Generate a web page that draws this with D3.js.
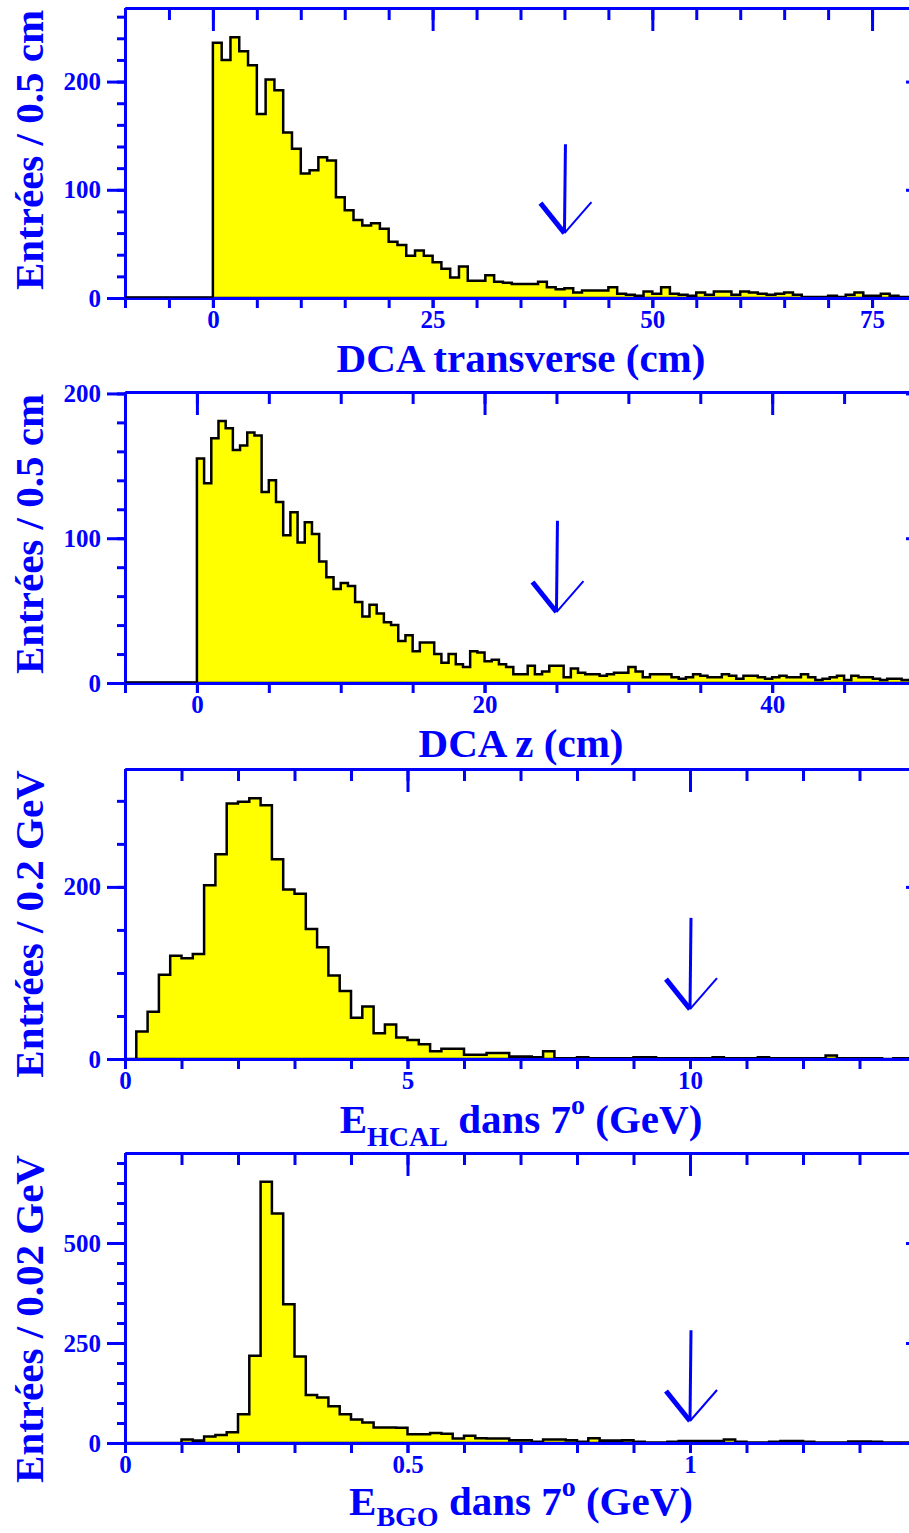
<!DOCTYPE html>
<html><head><meta charset="utf-8">
<script src="https://cdn.jsdelivr.net/npm/d3@7"></script>
<style>
body{margin:0;background:#fff;}
svg{display:block;}
text{font-family:"Liberation Serif","Times New Roman",serif;font-weight:bold;fill:#0000ff;}
.tick text{font-size:25px;}
.tick line{stroke-width:3px;}
.domain{stroke-width:3px;}
</style></head><body>
<svg id="c" width="909" height="1533"></svg>
<script>
// ---------- DATA ----------
// Panel 1 : DCA transverse (bins of 1 cm starting at 0)
const dcaTStart = 0, dcaTBinWidth = 1;
const dcaTCounts = [236,220,241,228,215,170,202,192,153,138,115,118,130,127,93,81,72,67,69,64,
  52,49,39,44,39,33,27,19,29,16,16,21,15,14,13,13,13,15,10,8,
  9,5,7,7,7,10,4,3,2,6,4,10,4,3,2,5,3,6,6,3,
  6,5,4,3,4,5,3,1,1,1,2,1,3,5,2,2,4,2,1,1];
const dcaTXTicks = [0,25,50,75], dcaTXLabels = ["0","25","50","75"];
const dcaTYTicks = [0,100,200], dcaTYLabels = ["0","100","200"];
const dcaTCut = 40;

// Panel 2 : DCA z (bins of 0.5 cm starting at 0)
const dcaZStart = 0, dcaZBinWidth = 0.5;
const dcaZCounts = [155,138,169,181,176,161,164,173,171,132,140,125,102,118,97,111,103,84,73,65,
  69,67,56,46,54,48,42,40,29,33,22,28,28,20,14,20,13,11,22,21,
  15,16,13,11,6,6,12,6,8,12,12,4,10,7,6,6,5,6,7,7,
  11,8,4,6,6,6,4,3,4,6,5,4,4,6,5,3,5,5,4,3,
  4,5,4,4,6,4,2,3,4,5,2,5,4,4,3,2,3,3,2,2];
const dcaZXTicks = [0,20,40], dcaZXLabels = ["0","20","40"];
const dcaZYTicks = [0,100,200], dcaZYLabels = ["0","100","200"];
const dcaZCut = 25;

// Panel 3 : E_HCAL in 7 deg (bins of 0.2 GeV starting at 0)
const hcalStart = 0, hcalBinWidth = 0.2;
const hcalCounts = [0,32,55,98,120,117,122,202,238,297,299,303,295,232,197,192,151,130,97,79,
  48,61,30,40,25,22,17,9,12,12,5,5,7,7,3,3,2,9,1,1,
  2,1,1,1,1,2,2,1,1,1,1,1,2,1,1,1,2,1,1,1,
  1,1,4,1,1,1,1,0,1,1];
const hcalXTicks = [0,5,10], hcalXLabels = ["0","5","10"];
const hcalYTicks = [0,200], hcalYLabels = ["0","200"];
const hcalCut = 10;

// Panel 4 : E_BGO in 7 deg (bins of 0.02 GeV starting at 0)
const bgoStart = 0, bgoBinWidth = 0.02;
const bgoCounts = [0,0,0,0,0,9,6,16,20,27,72,218,653,574,347,216,120,114,92,72,
  59,51,39,39,38,22,22,25,23,11,18,12,11,11,7,7,3,9,9,7,
  3,12,6,6,7,3,1,1,3,5,5,5,5,9,3,1,1,3,5,5,
  3,1,1,1,4,4,3,1,1,1];
const bgoXTicks = [0,0.5,1], bgoXLabels = ["0","0.5","1"];
const bgoYTicks = [0,250,500], bgoYLabels = ["0","250","500"];
const bgoCut = 1;

// ---------- LAYOUT ----------
const blue = "#0000ff";
const L = 125, R = 916;
const panels = [
  {counts:dcaTCounts, start:dcaTStart, bw:dcaTBinWidth, xDom:[-10,80], yDom:[0,268], top:8, bottom:298,
   xT:dcaTXTicks, xL:dcaTXLabels, xMinor:d3.range(-10,80.01,5), yT:dcaTYTicks, yL:dcaTYLabels, yMinor:d3.range(0,268,20),
   cut:dcaTCut, arrow:[60,142], yTitle:"Entrées / 0.5 cm", yTitleC:150, xTitleY:372,
   xTitle:[{t:"DCA transverse (cm)"}]},
  {counts:dcaZCounts, start:dcaZStart, bw:dcaZBinWidth, xDom:[-5,50], yDom:[0,201], top:392, bottom:683,
   xT:dcaZXTicks, xL:dcaZXLabels, xMinor:d3.range(-5,50.01,5), yT:dcaZYTicks, yL:dcaZYLabels, yMinor:d3.range(0,201,20),
   cut:dcaZCut, arrow:[49,112], yTitle:"Entrées / 0.5 cm", yTitleC:534, xTitleY:757,
   xTitle:[{t:"DCA z (cm)"}]},
  {counts:hcalCounts, start:hcalStart, bw:hcalBinWidth, xDom:[0,14], yDom:[0,337], top:769, bottom:1059,
   xT:hcalXTicks, xL:hcalXLabels, xMinor:d3.range(0,14.01,1), yT:hcalYTicks, yL:hcalYLabels, yMinor:d3.range(0,337,50),
   cut:hcalCut, arrow:[58,164], yTitle:"Entrées / 0.2 GeV", yTitleC:924, xTitleY:1133, sub:13,
   xTitle:[{t:"E"},{t:"HCAL",sub:1},{t:" dans 7"},{t:"o",sup:1},{t:" (GeV)"}]},
  {counts:bgoCounts, start:bgoStart, bw:bgoBinWidth, xDom:[0,1.4], yDom:[0,725], top:1153, bottom:1443,
   xT:bgoXTicks, xL:bgoXLabels, xMinor:d3.range(0,1.401,0.1), yT:bgoYTicks, yL:bgoYLabels, yMinor:d3.range(0,725,50),
   cut:bgoCut, arrow:[55,282], yTitle:"Entrées / 0.02 GeV", yTitleC:1319, xTitleY:1515, sub:11,
   xTitle:[{t:"E"},{t:"BGO",sub:1},{t:" dans 7"},{t:"o",sup:1},{t:" (GeV)"}]}
];

const svg = d3.select("#c");
const defs = svg.append("defs");

panels.forEach((p, k) => {
  const x = d3.scaleLinear().domain(p.xDom).range([L, R]);
  const y = d3.scaleLinear().domain(p.yDom).range([p.bottom, p.top]);
  const g = svg.append("g");

  defs.append("clipPath").attr("id", "clip" + k).append("rect")
    .attr("x", L).attr("y", p.top).attr("width", R - L).attr("height", p.bottom - p.top);

  // histogram outline points
  const pts = [[p.xDom[0], 0], [p.start, 0]];
  p.counts.forEach((v, i) => {
    const lo = p.start + i * p.bw, hi = p.start + (i + 1) * p.bw;
    pts.push([lo, v], [hi, v]);
  });
  pts.push([p.start + p.counts.length * p.bw, 0]);
  const line = d3.line().x(d => x(d[0])).y(d => y(d[1]));
  g.append("path").attr("clip-path", `url(#clip${k})`)
    .attr("d", line(pts) + "Z")
    .attr("fill", "#ffff00").attr("stroke", "#000").attr("stroke-width", 2.5)
    .attr("stroke-linejoin", "miter");

  // axes
  const ax = (sel, axis) => { sel.call(axis); sel.attr("font-size", null).attr("font-family", null).attr("color", blue); return sel; };
  ax(g.append("g").attr("transform", `translate(0,${p.bottom})`),
     d3.axisBottom(x).tickValues(p.xMinor).tickSize(10).tickSizeOuter(0).tickFormat(""));
  ax(g.append("g").attr("transform", `translate(0,${p.bottom})`),
     d3.axisBottom(x).tickValues(p.xT).tickSize(10).tickSizeOuter(0).tickPadding(2).tickFormat((d, i) => p.xL[i]));
  ax(g.append("g").attr("transform", `translate(0,${p.top})`),
     d3.axisTop(x).tickValues(p.xMinor).tickSize(-12).tickSizeOuter(0).tickFormat(""));
  ax(g.append("g").attr("transform", `translate(0,${p.top})`),
     d3.axisTop(x).tickValues(p.xT).tickSize(-23).tickSizeOuter(0).tickFormat(""));
  ax(g.append("g").attr("transform", `translate(${L},0)`),
     d3.axisLeft(y).tickValues(p.yMinor).tickSize(8).tickSizeOuter(0).tickFormat(""));
  ax(g.append("g").attr("transform", `translate(${L},0)`),
     d3.axisLeft(y).tickValues(p.yT).tickSize(18).tickSizeOuter(0).tickPadding(6).tickFormat((d, i) => p.yL[i]));
  ax(g.append("g").attr("transform", `translate(${R},0)`),
     d3.axisRight(y).tickValues(p.yT).tickSize(-10).tickSizeOuter(0).tickFormat(""));

  // black baseline of the empty region (drawn above the blue axis like the reference)
  g.append("line").attr("x1", x(p.xDom[0])).attr("x2", x(p.start)).attr("y1", y(0) - 1).attr("y2", y(0) - 1)
    .attr("stroke", "#000").attr("stroke-width", 1.5);

  // cut arrow
  const ax0 = x(p.cut), tipY = y(p.arrow[0]), topY = y(p.arrow[1]);
  const ag = g.append("g").attr("stroke", blue).attr("fill", "none");
  ag.append("line").attr("x1", ax0 + 1).attr("y1", topY).attr("x2", ax0).attr("y2", tipY).attr("stroke-width", 3);
  ag.append("line").attr("x1", ax0 - 24).attr("y1", tipY - 30).attr("x2", ax0).attr("y2", tipY).attr("stroke-width", 5);
  ag.append("line").attr("x1", ax0 + 27).attr("y1", tipY - 31).attr("x2", ax0).attr("y2", tipY).attr("stroke-width", 2);

  // y title
  svg.append("text").attr("transform", `translate(43,${p.yTitleC}) rotate(-90)`)
    .attr("text-anchor", "middle").attr("font-size", 41).text(p.yTitle);

  // x title
  const t = svg.append("text").attr("x", 521).attr("y", p.xTitleY)
    .attr("text-anchor", "middle").attr("font-size", 41);
  let cur = 0;
  p.xTitle.forEach(s => {
    const target = s.sub ? p.sub : s.sup ? -19 : 0;
    t.append("tspan").attr("dy", target - cur).attr("font-size", (s.sub || s.sup) ? 28 : 41).text(s.t);
    cur = target;
  });
});
</script>
</body></html>
